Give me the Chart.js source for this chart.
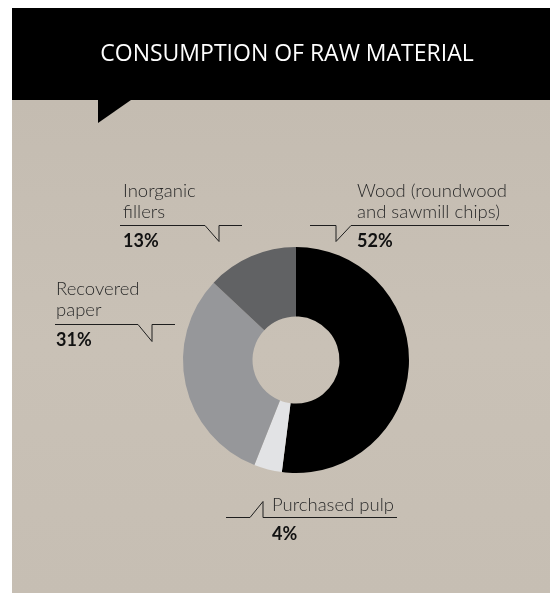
<!DOCTYPE html>
<html>
<head>
<meta charset="utf-8">
<script src="https://cdn.jsdelivr.net/npm/chart.js@4.4.1/dist/chart.umd.min.js"></script>
<style>
  html, body { margin: 0; padding: 0; background: #fff; }
  #wrap { position: relative; width: 550px; height: 593px; }
</style>
</head>
<body>
<div id="wrap"><canvas id="rawChart" width="550" height="593"></canvas></div>
<script>
// raw material shares, clockwise from 12 o'clock
const categories = ["Wood (roundwood and sawmill chips)", "Purchased pulp", "Recovered paper", "Inorganic fillers"];
const shares = [52, 4, 31, 13];
const sliceColors = ["#000000", "#e2e3e5", "#96979a", "#616264"];
const title = "CONSUMPTION OF RAW MATERIAL";

// callout text and leader lines, in page pixels
const callouts = [
  { lines: ["Wood (roundwood", "and sawmill chips)"], x: 357, y: 197, pctY: 247,
    path: [[310, 225], [336, 225], [336, 241], [351, 225], [509, 225]] },
  { lines: ["Purchased pulp"], x: 272, y: 511, pctY: 540,
    path: [[226, 517], [250, 517], [263, 501], [263, 517], [397, 517]] },
  { lines: ["Recovered", "paper"], x: 56, y: 295, pctY: 346,
    path: [[55, 324], [138, 324], [152, 341], [152, 324], [175, 324]] },
  { lines: ["Inorganic", "fillers"], x: 123, y: 197, pctY: 247,
    path: [[120, 225], [205, 225], [219, 241], [219, 225], [242, 225]] }
];

const backdrop = {
  id: "backdrop",
  beforeDraw(chart) {
    const c = chart.ctx;
    c.save();
    c.fillStyle = "#ffffff";
    c.fillRect(0, 0, 550, 593);
    // stone-coloured panel
    const g = c.createLinearGradient(0, 100, 0, 593);
    g.addColorStop(0, "#c4bcb1");
    g.addColorStop(0.5, "#c9c1b6");
    g.addColorStop(1, "#c6beb3");
    c.fillStyle = g;
    c.fillRect(12, 100, 538, 493);
    // header band with speech tail
    c.fillStyle = "#000";
    c.fillRect(12, 8, 538, 92);
    c.beginPath();
    c.moveTo(98, 100);
    c.lineTo(98, 123);
    c.lineTo(131, 100);
    c.closePath();
    c.fill();
    c.fillStyle = "#fff";
    c.font = "23px 'Open Sans'";
    c.textAlign = "center";
    c.textBaseline = "alphabetic";
    c.fillText(title, 287, 61);
    c.restore();
  }
};

const calloutPlugin = {
  id: "callouts",
  afterDraw(chart) {
    const c = chart.ctx;
    c.save();
    c.textAlign = "left";
    c.textBaseline = "alphabetic";
    callouts.forEach((co, i) => {
      c.strokeStyle = "#1e1e1e";
      c.lineWidth = 1;
      c.beginPath();
      co.path.forEach(([px, py], k) => {
        if (k === 0) c.moveTo(px, py + 0.5);
        else c.lineTo(px, py + 0.5);
      });
      c.stroke();
      c.fillStyle = "#2a2a2a";
      c.font = "300 18.5px Lato";
      co.lines.forEach((ln, k) => c.fillText(ln, co.x, co.y + k * 21));
      c.fillStyle = "#111";
      c.font = "bold 18px Lato";
      c.fillText(chart.data.datasets[0].data[i] + "%", co.x, co.pctY);
    });
    c.restore();
  }
};

new Chart(document.getElementById("rawChart"), {
  type: "doughnut",
  data: {
    labels: categories,
    datasets: [{
      data: shares,
      backgroundColor: sliceColors,
      borderWidth: 0
    }]
  },
  options: {
    responsive: false,
    animation: false,
    cutout: "38.5%",
    layout: { padding: { left: 183, right: 141, top: 247, bottom: 120 } },
    plugins: {
      legend: { display: false },
      tooltip: { enabled: false }
    }
  },
  plugins: [backdrop, calloutPlugin]
});
</script>
</body>
</html>
